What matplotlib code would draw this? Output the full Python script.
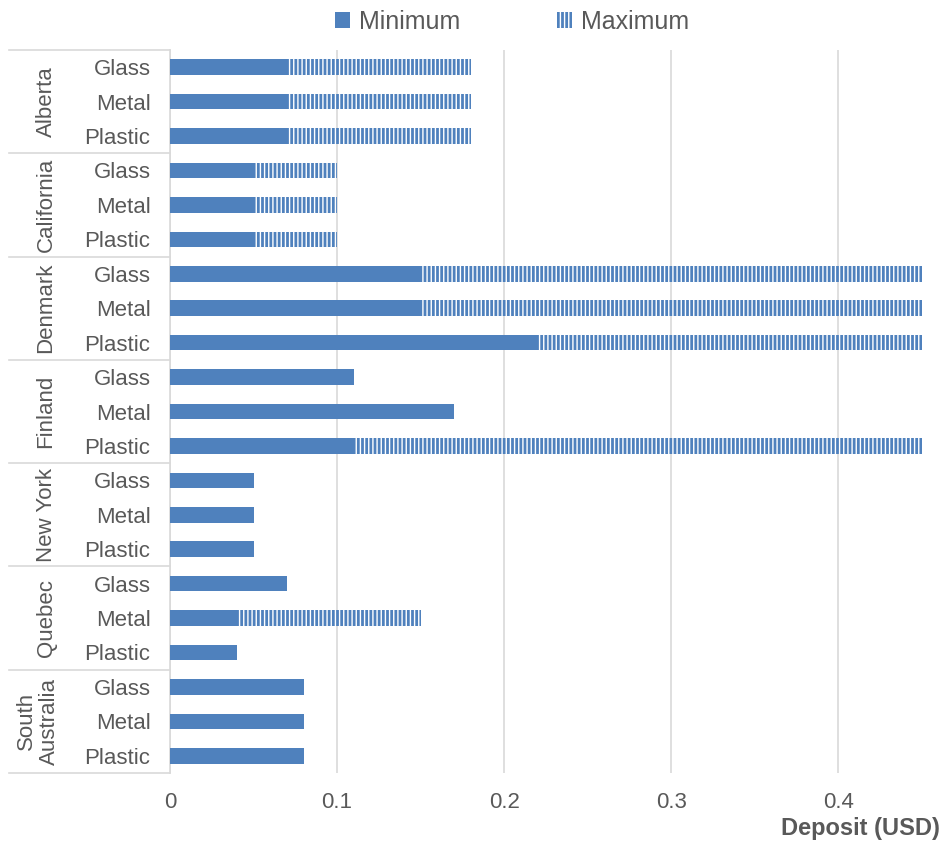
import matplotlib
matplotlib.use("Agg")
import matplotlib.pyplot as plt
from matplotlib.patches import Patch
from matplotlib.lines import Line2D

plt.rcParams['font.family'] = ['Liberation Sans', 'DejaVu Sans']
plt.rcParams['hatch.linewidth'] = 1.0

regions = ["Alberta", "California", "Denmark", "Finland", "New York", "Quebec", "South\nAustralia"]
materials = ["Glass", "Metal", "Plastic"]
minimum = [0.07, 0.07, 0.07,
           0.05, 0.05, 0.05,
           0.15, 0.15, 0.22,
           0.11, 0.17, 0.11,
           0.05, 0.05, 0.05,
           0.07, 0.04, 0.04,
           0.08, 0.08, 0.08]
maximum = [0.18, 0.18, 0.18,
           0.10, 0.10, 0.10,
           0.45, 0.45, 0.45,
           0.11, 0.17, 0.45,
           0.05, 0.05, 0.05,
           0.07, 0.15, 0.04,
           0.08, 0.08, 0.08]
xticks = [0, 0.1, 0.2, 0.3, 0.4]
xtick_labels = ["0", "0.1", "0.2", "0.3", "0.4"]

blue = '#4F81BD'
grey_text = '#595959'
grid_c = '#D9D9D9'

W, H = 943, 843
fig = plt.figure(figsize=(W/100, H/100), dpi=100)
left, right, top, bottom = 170, 922, 50, 773
ax = fig.add_axes([left/W, 1-bottom/H, (right-left)/W, (bottom-top)/H])

n = len(minimum)
ypos = list(range(n))
extra = [mx - mn for mn, mx in zip(minimum, maximum)]
ax.barh(ypos, minimum, height=0.45, color=blue, zorder=3)
ax.barh(ypos, extra, left=minimum, height=0.45, facecolor=blue, edgecolor='white',
        linewidth=0, hatch='||||', zorder=3)

ax.set_xlim(0, 0.45)
ax.set_ylim(n-0.5, -0.5)
ax.set_xticks(xticks)
ax.set_xticklabels(xtick_labels, fontsize=16, color=grey_text)
ax.tick_params(axis='x', length=0, pad=14)
ax.set_yticks(ypos)
ax.set_yticklabels(materials*len(regions), fontsize=16, color=grey_text)
ax.tick_params(axis='y', length=0, pad=14)
ax.grid(axis='x', color=grid_c, linewidth=1.2, zorder=0)
for s in ['top', 'right', 'bottom']:
    ax.spines[s].set_visible(False)
ax.spines['left'].set_color(grid_c)
ax.spines['left'].set_linewidth(1.2)

# group separators & labels
x_left_ax = (9-left)/(right-left)
trans = ax.get_yaxis_transform()
for g in range(len(regions)+1):
    yb = g*3 - 0.5
    ax.add_line(Line2D([x_left_ax, 0], [yb, yb], transform=trans, color=grid_c,
                       linewidth=1.2, clip_on=False))
for g, r in enumerate(regions):
    xc = 38 if "\n" in r else 46
    ax.text((xc-left)/(right-left), g*3+1, r, transform=trans, rotation=90,
            ha='center', va='center', fontsize=16, color=grey_text,
            multialignment='center', linespacing=1.15)

fig.text(940/W, 1-829/H, "Deposit (USD)", ha='right', va='center', fontsize=17,
         fontweight='bold', color=grey_text)

handles = [Patch(facecolor=blue, edgecolor='none'),
           Patch(facecolor=blue, edgecolor='white', linewidth=0, hatch='||||')]
leg = fig.legend(handles, ["Minimum", "Maximum"], loc='center', bbox_to_anchor=(512/W, 1-22/H),
                 ncol=2, frameon=False, fontsize=18, handlelength=0.6, handleheight=0.6,
                 handletextpad=0.35, columnspacing=3.9)
for t in leg.get_texts():
    t.set_color(grey_text)

fig.savefig("out.png", dpi=100)
